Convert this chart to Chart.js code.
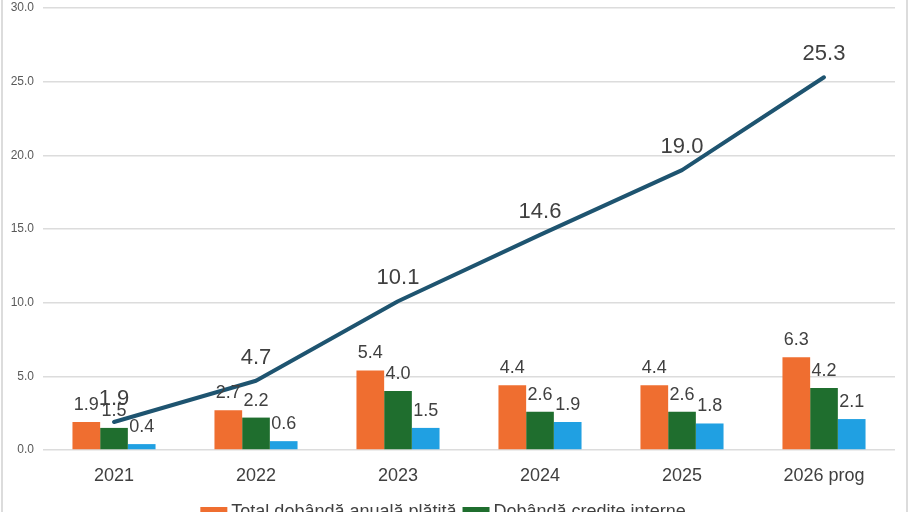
<!DOCTYPE html>
<html>
<head>
<meta charset="utf-8">
<script src="https://cdn.jsdelivr.net/npm/chart.js@4/dist/chart.umd.min.js"></script>
<style>
  html, body { margin: 0; padding: 0; background: #fff; overflow: hidden; }
  #wrap { position: relative; width: 910px; height: 512px; }
  #frameL { position: absolute; left: 1px; top: 0; width: 2px; height: 512px; background: #dcdcdc; }
  #frameR { position: absolute; left: 906px; top: 0; width: 2px; height: 512px; background: #dcdcdc; }
  canvas { position: absolute; left: 0; top: 0; }
</style>
</head>
<body>
<div id="wrap">
  <canvas id="c" width="910" height="512"></canvas>
  <div id="frameL"></div>
  <div id="frameR"></div>
</div>
<script>
const categories = ["2021", "2022", "2023", "2024", "2025", "2026 prog"];
const totalAnual = [1.9, 2.7, 5.4, 4.4, 4.4, 6.3];
const crediteInterne = [1.5, 2.2, 4.0, 2.6, 2.6, 4.2];
const crediteExterne = [0.4, 0.6, 1.5, 1.9, 1.8, 2.1];
const totalCumulat = [1.9, 4.7, 10.1, 14.6, 19.0, 25.3];
const seriesNames = ["Total dobândă anuală plătită", "Dobândă credite interne", "Dobândă credite externe", "Total dobândă cumulată"];
const yTicks = [0, 5, 10, 15, 20, 25, 30];

const COLORS = { orange: "#EF6E30", green: "#1F6E2E", blue: "#20A0E2", line: "#1E5470" };
const FONT = "'Liberation Sans', Arial, sans-serif";

const labelPlugin = {
  id: "valueLabels",
  afterDatasetsDraw(chart) {
    const ctx = chart.ctx;
    ctx.save();
    ctx.fillStyle = "#404040";
    ctx.textAlign = "center";
    ctx.textBaseline = "alphabetic";
    chart.data.datasets.forEach((ds, i) => {
      const meta = chart.getDatasetMeta(i);
      meta.data.forEach((el, j) => {
        const v = ds.data[j];
        if (ds.type === "line") {
          ctx.font = "22px " + FONT;
          ctx.fillText(v.toFixed(1), el.x, el.y - 17);
        } else {
          ctx.font = "18px " + FONT;
          ctx.fillText(v.toFixed(1), el.x, el.y - 12);
        }
      });
    });
    ctx.restore();
  }
};

const legendPlugin = {
  id: "customLegend",
  afterDraw(chart) {
    const ctx = chart.ctx;
    ctx.save();
    ctx.font = "18px " + FONT;
    ctx.textBaseline = "top";
    const items = chart.data.datasets.map(ds => ({ label: ds.label, color: ds.type === "line" ? ds.borderColor : ds.backgroundColor }));
    const rows = [items.slice(0, 2), items.slice(2)];
    const boxW = 27, gapBox = 4, gapItem = 6;
    let y = 503;
    rows.forEach(row => {
      const widths = row.map(it => boxW + gapBox + ctx.measureText(it.label).width);
      const total = widths.reduce((a, b) => a + b, 0) + gapItem * (row.length - 1);
      let x = 443 - total / 2;
      row.forEach((it, k) => {
        ctx.fillStyle = it.color;
        ctx.fillRect(x, y + 4, boxW, 11);
        ctx.fillStyle = "#404040";
        ctx.fillText(it.label, x + boxW + gapBox, y);
        x += widths[k] + gapItem;
      });
      y += 26;
    });
    ctx.restore();
  }
};

new Chart(document.getElementById("c"), {
  data: {
    labels: categories,
    datasets: [
      { type: "bar", label: seriesNames[0], data: totalAnual, backgroundColor: COLORS.orange, order: 1, categoryPercentage: 0.585, barPercentage: 1.0 },
      { type: "bar", label: seriesNames[1], data: crediteInterne, backgroundColor: COLORS.green, order: 1, categoryPercentage: 0.585, barPercentage: 1.0 },
      { type: "bar", label: seriesNames[2], data: crediteExterne, backgroundColor: COLORS.blue, order: 1, categoryPercentage: 0.585, barPercentage: 1.0 },
      { type: "line", label: seriesNames[3], data: totalCumulat, borderColor: COLORS.line, backgroundColor: COLORS.line, borderWidth: 4, pointRadius: 0, tension: 0, order: 0, borderCapStyle: "round", borderJoinStyle: "round" }
    ]
  },
  options: {
    responsive: false,
    animation: false,
    layout: { padding: { left: 0, right: 15, top: 8, bottom: 0 } },
    plugins: { legend: { display: false }, tooltip: { enabled: false } },
    scales: {
      x: {
        grid: { display: false, drawTicks: false },
        border: { display: false },
        ticks: { color: "#404040", font: { size: 18, family: FONT }, padding: 15 },
        afterFit(scale) { scale.height = 62; scale.paddingLeft = 0; scale.paddingRight = 0; }
      },
      y: {
        min: 0, max: 30,
        afterBuildTicks(scale) { scale.ticks = yTicks.map(v => ({ value: v })); },
        grid: { color: "#dcdcdc", lineWidth: 1.5, drawTicks: false },
        border: { display: false },
        ticks: { color: "#595959", font: { size: 12, family: FONT }, padding: 9, callback: v => Number(v).toFixed(1) },
        afterFit(scale) { scale.width = 43; scale.paddingTop = 0; scale.paddingBottom = 0; }
      }
    }
  },
  plugins: [labelPlugin, legendPlugin]
});
</script>
</body>
</html>
